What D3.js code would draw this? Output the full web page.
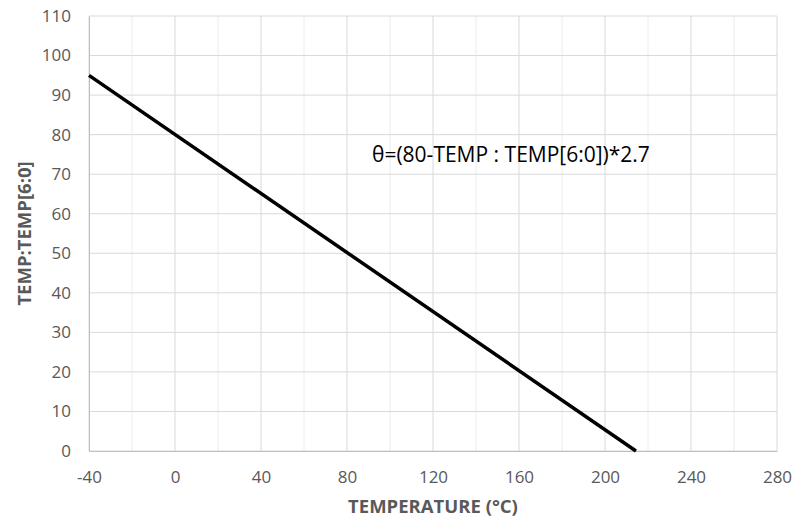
<!DOCTYPE html>
<html>
<head>
<meta charset="utf-8">
<script src="https://cdn.jsdelivr.net/npm/d3@7"></script>
<style>
body { margin: 0; background: #fff; }
text { font-family: "Open Sans", "Liberation Sans", sans-serif; }
</style>
</head>
<body>
<div class="chart"></div>
<script>
// line endpoints
var temps = [-40, 214.4];
var codes = [95, 0];
var xTicks = [-40, 0, 40, 80, 120, 160, 200, 240, 280];
var xMinor = [-20, 20, 60, 100, 140, 180, 220, 260];
var yTicks = [0, 10, 20, 30, 40, 50, 60, 70, 80, 90, 100, 110];
var noteText = "θ=(80-TEMP : TEMP[6:0])*2.7";

var width = 795, height = 521;
var margin = {left: 89, right: 18, top: 16, bottom: 70};

var x = d3.scaleLinear()
	.domain([-40, 280])
	.range([margin.left, width - margin.right]);

var y = d3.scaleLinear()
	.domain([0, 110])
	.range([height - margin.bottom, margin.top]);

var svg = d3.select(".chart")
	.append("svg")
	.attr("width", width)
	.attr("height", height);

var grid = svg.append("g").attr("id", "grid");

// lighter vertical lines between the labelled ones
grid.selectAll("line.minor")
	.data(xMinor)
	.enter()
	.append("line")
	.attr("class", "minor")
	.attr("x1", function(d){ return x(d); })
	.attr("x2", function(d){ return x(d); })
	.attr("y1", y(0))
	.attr("y2", y(110))
	.style("stroke", "#ececec")
	.style("stroke-width", "1px");

grid.selectAll("line.v")
	.data(xTicks)
	.enter()
	.append("line")
	.attr("class", "v")
	.attr("x1", function(d){ return x(d); })
	.attr("x2", function(d){ return x(d); })
	.attr("y1", y(0))
	.attr("y2", y(110))
	.style("stroke", "#d9d9d9")
	.style("stroke-width", "1px");

grid.selectAll("line.h")
	.data(yTicks)
	.enter()
	.append("line")
	.attr("class", "h")
	.attr("x1", x(-40))
	.attr("x2", x(280))
	.attr("y1", function(d){ return y(d); })
	.attr("y2", function(d){ return y(d); })
	.style("stroke", "#d9d9d9")
	.style("stroke-width", "1px");

var fmt = function(d){ return String(d); };

var xAxis = svg.append("g")
	.attr("transform", "translate(0," + y(0) + ")")
	.call(d3.axisBottom(x).tickValues(xTicks).tickFormat(fmt).tickSize(0).tickPadding(20));
xAxis.select(".domain").attr("stroke", "#bfbfbf");

var yAxis = svg.append("g")
	.attr("transform", "translate(" + x(-40) + ",0)")
	.call(d3.axisLeft(y).tickValues(yTicks).tickFormat(fmt).tickSize(0).tickPadding(18));
yAxis.select(".domain").attr("stroke", "#bfbfbf");

svg.selectAll(".tick text")
	.attr("fill", "#595959")
	.style("font-size", "17px");

var line = d3.line()
	.x(function(d){ return x(d[0]); })
	.y(function(d){ return y(d[1]); });

svg.append("path")
	.datum(d3.zip(temps, codes))
	.attr("d", line)
	.attr("fill", "none")
	.attr("stroke", "#000")
	.attr("stroke-width", 3.5);

svg.append("text")
	.attr("x", 372)
	.attr("y", 162)
	.attr("fill", "#000")
	.style("font-size", "21px")
	.text(noteText);

svg.append("text")
	.attr("x", (x(-40) + x(280)) / 2)
	.attr("y", 513)
	.attr("text-anchor", "middle")
	.attr("fill", "#595959")
	.style("font-size", "18.5px")
	.style("font-weight", "bold")
	.text("TEMPERATURE (°C)");

svg.append("text")
	.attr("transform", "translate(31," + ((y(0) + y(110)) / 2) + ") rotate(-90)")
	.attr("text-anchor", "middle")
	.attr("fill", "#595959")
	.style("font-size", "18.5px")
	.style("font-weight", "bold")
	.text("TEMP:TEMP[6:0]");
</script>
</body>
</html>
